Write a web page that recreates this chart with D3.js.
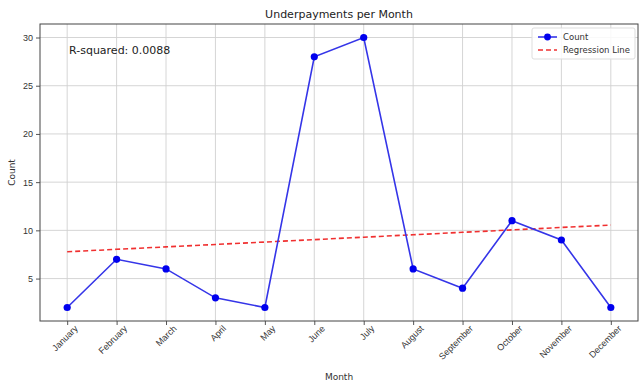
<!DOCTYPE html>
<html>
<head>
<meta charset="utf-8">
<script src="https://cdn.jsdelivr.net/npm/d3@7"></script>
<style>
  html, body { margin: 0; padding: 0; background: #fff; }
  svg { display: block; font-family: "DejaVu Sans", sans-serif; }
</style>
</head>
<body>
<svg id="chart" width="642" height="385"></svg>
<script>
// Monthly underpayment counts
const months = ["January", "February", "March", "April", "May", "June",
                "July", "August", "September", "October", "November", "December"];
const counts = [2, 7, 6, 3, 2, 28, 30, 6, 4, 11, 9, 2];
const yTicks = [5, 10, 15, 20, 25, 30];

// Least-squares fit of count against month index
const n = counts.length;
const xs = d3.range(n);
const mx = d3.mean(xs), my = d3.mean(counts);
const sxy = d3.sum(xs, (x, i) => (x - mx) * (counts[i] - my));
const sxx = d3.sum(xs, x => (x - mx) ** 2);
const syy = d3.sum(counts, y => (y - my) ** 2);
const slope = sxy / sxx;
const intercept = my - slope * mx;
const rSquared = (sxy * sxy) / (sxx * syy);
const fitted = xs.map(x => intercept + slope * x);

const svg = d3.select("#chart");
const margin = { left: 40, right: 4, top: 24, bottom: 64 };
const W = 642, H = 385;
const innerW = W - margin.left - margin.right;
const innerH = H - margin.top - margin.bottom;

// Padded domains like the default plot margins
const xPad = 0.05 * (n - 1);
const yMin = d3.min(counts), yMax = d3.max(counts);
const yPad = 0.05 * (yMax - yMin);

const x = d3.scaleLinear().domain([-xPad, n - 1 + xPad]).range([0, innerW]);
const y = d3.scaleLinear().domain([yMin - yPad, yMax + yPad]).range([innerH, 0]);

const g = svg.append("g").attr("transform", `translate(${margin.left},${margin.top})`);

// Grid
g.append("g").selectAll("line").data(xs).join("line")
  .attr("x1", d => x(d)).attr("x2", d => x(d))
  .attr("y1", 0).attr("y2", innerH)
  .attr("stroke", "#d0d0d0").attr("stroke-width", 0.9);
g.append("g").selectAll("line").data(yTicks).join("line")
  .attr("x1", 0).attr("x2", innerW)
  .attr("y1", d => y(d)).attr("y2", d => y(d))
  .attr("stroke", "#d0d0d0").attr("stroke-width", 0.9);

// Axes
const xAxis = g.append("g").attr("transform", `translate(0,${innerH})`)
  .call(d3.axisBottom(x).tickValues(xs).tickFormat(i => months[i]).tickSize(4).tickSizeOuter(0));
xAxis.select(".domain").remove();
xAxis.selectAll("text")
  .attr("font-size", 9).attr("fill", "#333")
  .attr("text-anchor", "end")
  .attr("dx", "0.2em").attr("dy", "0.7em")
  .attr("transform", "rotate(-45)");

const yAxis = g.append("g")
  .call(d3.axisLeft(y).tickValues(yTicks).tickSize(4).tickSizeOuter(0));
yAxis.select(".domain").remove();
yAxis.selectAll("text").attr("font-size", 9).attr("fill", "#333");
g.selectAll(".tick line").attr("stroke", "#555");

// Frame
g.append("rect").attr("width", innerW).attr("height", innerH)
  .attr("fill", "none").attr("stroke", "#444").attr("stroke-width", 1);

// Regression line
g.append("path")
  .datum(fitted)
  .attr("d", d3.line().x((d, i) => x(i)).y(d => y(d)))
  .attr("fill", "none").attr("stroke", "#f03030").attr("stroke-width", 1.6)
  .attr("stroke-dasharray", "5,3");

// Count series
g.append("path")
  .datum(counts)
  .attr("d", d3.line().x((d, i) => x(i)).y(d => y(d)))
  .attr("fill", "none").attr("stroke", "#3535e8").attr("stroke-width", 1.6);
g.append("g").selectAll("circle").data(counts).join("circle")
  .attr("cx", (d, i) => x(i)).attr("cy", d => y(d)).attr("r", 3.6)
  .attr("fill", "#0000ee");

// R-squared annotation
g.append("text")
  .attr("x", 29).attr("y", 30)
  .attr("font-size", 11).attr("fill", "#222")
  .text(`R-squared: ${rSquared.toFixed(4)}`);

// Legend
const lg = g.append("g").attr("transform", `translate(${innerW - 106},4)`);
lg.append("rect").attr("width", 103).attr("height", 31).attr("rx", 2)
  .attr("fill", "#fff").attr("fill-opacity", 0.85)
  .attr("stroke", "#ddd");
lg.append("line").attr("x1", 6).attr("x2", 25).attr("y1", 9).attr("y2", 9)
  .attr("stroke", "#3535e8").attr("stroke-width", 1.6);
lg.append("circle").attr("cx", 15.5).attr("cy", 9).attr("r", 3.4).attr("fill", "#0000ee");
lg.append("text").attr("x", 31).attr("y", 12).attr("font-size", 8.5).attr("fill", "#333").text("Count");
lg.append("line").attr("x1", 6).attr("x2", 25).attr("y1", 22).attr("y2", 22)
  .attr("stroke", "#f03030").attr("stroke-width", 1.6).attr("stroke-dasharray", "5,3");
lg.append("text").attr("x", 31).attr("y", 25).attr("font-size", 8.5).attr("fill", "#333").text("Regression Line");

// Titles
svg.append("text").attr("x", margin.left + innerW / 2).attr("y", 18)
  .attr("text-anchor", "middle").attr("font-size", 11).attr("fill", "#222")
  .text("Underpayments per Month");
svg.append("text").attr("x", margin.left + innerW / 2).attr("y", 380)
  .attr("text-anchor", "middle").attr("font-size", 9).attr("fill", "#333")
  .text("Month");
svg.append("text")
  .attr("transform", `translate(15,${margin.top + innerH / 2}) rotate(-90)`)
  .attr("text-anchor", "middle").attr("font-size", 9).attr("fill", "#333")
  .text("Count");
</script>
</body>
</html>
